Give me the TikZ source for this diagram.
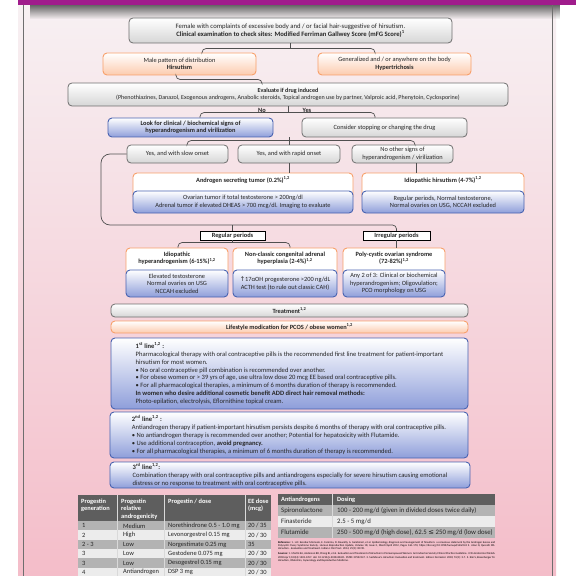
\documentclass[tikz,border=0pt]{standalone}
\usepackage{fontspec}
\setmainfont{Carlito}
\newfontfamily\symfont{DejaVu Sans}
\usetikzlibrary{fadings}

\definecolor{magbar}{HTML}{A01C8C}
\definecolor{pagetop}{HTML}{F7F1F3}
\definecolor{pagemid}{HTML}{EDD0DC}
\definecolor{pagebot}{HTML}{F4BDC9}
\definecolor{grayline}{HTML}{6E6E6E}
\definecolor{grayshade}{HTML}{D6D6D6}
\definecolor{orangeline}{HTML}{F8A06A}
\definecolor{orangeshade}{HTML}{FCCBAE}
\definecolor{blueline}{HTML}{4862B0}
\definecolor{blueshade}{HTML}{8E9EDA}
\definecolor{connline}{HTML}{505050}
\definecolor{tabhead}{HTML}{5E5E5E}
\definecolor{tabdark}{HTML}{B3B3B3}
\definecolor{tablight}{HTML}{ECECEC}
\definecolor{textcol}{HTML}{262626}

\newcommand{\boxfont}{\fontsize{6.4}{7.5}\selectfont}
\newcommand{\therapyfont}{\fontsize{6.6}{7.9}\selectfont}
\newcommand{\cellfont}{\fontsize{6.5}{7.5}\selectfont}
\newcommand{\dosefont}{\fontsize{6.8}{8}\selectfont}

\tikzset{
  graybox/.style={draw=grayline, line width=0.8bp, rounded corners=4bp,
    top color=white, bottom color=grayshade, align=center, inner sep=1bp},
  orangebox/.style={draw=orangeline, line width=0.9bp, rounded corners=4bp,
    top color=white, bottom color=orangeshade, align=center, inner sep=1bp},
  bluebox/.style={draw=blueline, line width=0.9bp, rounded corners=4bp,
    top color=white, bottom color=blueshade, align=center, inner sep=1bp},
  hdrbox/.style={draw=orangeline, line width=0.9bp, rounded corners=4bp, fill=white},
  hdrtxt/.style={anchor=north, yshift=-4bp, inner sep=0pt, font=\boxfont\bfseries, align=center},
  conn/.style={draw=connline, line width=0.7bp, rounded corners=4bp},
  tagbox/.style={draw=black, line width=0.5bp, fill=white, font=\boxfont\bfseries, inner sep=0.6bp},
  lbl/.style={font=\boxfont\bfseries, inner sep=0pt},
  cell/.style={anchor=west, inner sep=0pt, text=textcol},
  headcell/.style={anchor=north west, inner sep=0pt, text=white,
    font=\fontsize{6.4}{7.2}\selectfont\bfseries, align=left},
}

\begin{document}
\begin{tikzpicture}[x=1bp, y=-1bp, text=textcol, font=\boxfont]
  \useasboundingbox (0,0) rectangle (576,576);
  \clip (0,0) rectangle (576,576);

  % Seite
  \fill[white] (0,0) rectangle (576,576);
  \shade[top color=pagetop, middle color=pagemid, bottom color=pagebot]
    (18,0) rectangle (556,576);
  \fill[black!60, path fading=south] (30,5) rectangle (560,19);
  \fill[magbar] (18,0) rectangle (576,5.5);
  \draw[grayline, line width=0.6bp] (23,5) -- (23,576);
  \draw[grayline, line width=0.6bp] (552,5) -- (552,576);

  % Befund
  \node[graybox, minimum width=323bp, minimum height=25bp, font=\fontsize{6.7}{8}\selectfont] (female) at (290.5,30.5)
    {Female with complaints of  excessive body and / or facial hair-suggestive of hirsutism.\\
     \textbf{Clinical examination to check sites:  Modified Ferriman Gallwey Score (mFG Score)\textsuperscript{1}}};
  \node[orangebox, minimum width=153bp, minimum height=22bp] (male) at (179.5,64)
    {Male pattern of distribution\\ \textbf{Hirsutism}};
  \node[orangebox, minimum width=153bp, minimum height=22bp] (gen) at (394.5,64)
    {Generalized and / or anywhere on the body\\ \textbf{Hypertrichosis}};
  \node[graybox, minimum width=440bp, minimum height=23bp, font=\fontsize{6.1}{7.4}\selectfont] (eval) at (288,94.5)
    {\textbf{Evaluate if drug induced}\\
     (Phenothiazines, Danazol, Exogenous androgens, Anabolic steroids, Topical androgen use by partner, Valproic acid, Phenytoin, Cyclosporine)};
  \node[lbl] (no) at (262,110) {No};
  \node[lbl] (yes) at (307,110) {Yes};

  % Zeichen der Hyperandrogenaemie
  \node[bluebox, minimum width=165bp, minimum height=19bp] (look) at (190.5,127.5)
    {\textbf{Look for clinical / biochemical signs of}\\ \textbf{hyperandrogenism and virilization}};
  \node[graybox, minimum width=165bp, minimum height=19bp] (consider) at (384.5,127.5)
    {Consider stopping or changing the drug};
  \node[graybox, minimum width=101bp, minimum height=18bp] (slow) at (177.5,154)
    {Yes, and with slow onset};
  \node[graybox, minimum width=102bp, minimum height=18bp] (rapid) at (289,154)
    {Yes, and with rapid onset};
  \node[graybox, minimum width=101bp, minimum height=18bp] (noother) at (402.5,154)
    {No other signs of\\ hyperandrogenism / virilization};

  % Tumor und idiopathischer Hirsutismus
  \node[hdrbox, minimum width=220bp, minimum height=27bp,
    label={[hdrtxt]north:Androgen secreting tumor (0.2\%)\textsuperscript{1,2}}] (andro) at (243,186.5) {};
  \node[bluebox, minimum width=220bp, minimum height=22bp] (androinfo) at (243,202)
    {Ovarian tumor if total testosterone > 200ng/dl\\
     Adrenal tumor if elevated DHEAS > 700 mcg/dl. Imaging to evaluate};
  \node[hdrbox, minimum width=162bp, minimum height=27bp,
    label={[hdrtxt]north:Idiopathic hirsutism (4-7\%)\textsuperscript{1,2}}] (idiohirs) at (443,186.5) {};
  \node[bluebox, minimum width=162bp, minimum height=22bp] (idiohirsinfo) at (443,202)
    {Regular periods, Normal testosterone,\\ Normal ovaries on USG, NCCAH excluded};

  % Zyklus
  \node[tagbox, minimum width=65bp, minimum height=9bp] (regular) at (232.5,235.5) {Regular periods};
  \node[tagbox, minimum width=67bp, minimum height=9bp] (irregular) at (396.5,235.5) {Irregular periods};
  \coordinate (loop) at (101,225);

  \node[hdrbox, minimum width=102bp, minimum height=28bp,
    label={[hdrtxt]north:Idiopathic\\ hyperandrogenism (6-15\%)\textsuperscript{1,2}}] (idiohyper) at (177,262) {};
  \node[bluebox, minimum width=102bp, minimum height=27bp] (idiohyperinfo) at (177,283.5)
    {Elevated testosterone\\ Normal ovaries on USG\\ NCCAH excluded};
  \node[hdrbox, minimum width=104bp, minimum height=28bp,
    label={[hdrtxt]north:Non-classic congenital adrenal\\ hyperplasia  (2-4\%)\textsuperscript{1,2}}] (ncah) at (285,262) {};
  \node[bluebox, minimum width=104bp, minimum height=27bp] (ncahinfo) at (285,283.5)
    {{\symfont ↑}17αOH progesterone >200 ng/dL\\ ACTH test (to rule out classic CAH)};
  \node[hdrbox, minimum width=102bp, minimum height=28bp,
    label={[hdrtxt]north:Poly-cystic ovarian syndrome\\ (72-82\%)\textsuperscript{1,2}}] (pcos) at (394,262) {};
  \node[bluebox, minimum width=102bp, minimum height=27bp] (pcosinfo) at (394,283.5)
    {Any 2 of 3: Clinical or biochemical\\ hyperandrogenism; Oligovulation;\\ PCO morphology on USG};

  % Therapie
  \node[graybox, minimum width=357bp, minimum height=13bp] (treat) at (289.5,310.5)
    {\textbf{Treatment\textsuperscript{1,2}}};
  \node[orangebox, minimum width=357bp, minimum height=12bp] (life) at (289.5,327)
    {\textbf{Lifestyle modication for PCOS / obese women\textsuperscript{1,2}}};
  \node[bluebox, align=left, font=\therapyfont, minimum width=357bp, minimum height=71bp] (first) at (289.5,373.5)
    {\textbf{1\textsuperscript{st} line\textsuperscript{1,2} :}\\
     Pharmacological therapy with oral contraceptive pills is the recommended first line treatment for patient-important\\
     hirsutism for most women.\\
     • No oral contraceptive pill combination is recommended over another.\\
     • For obese women or > 39 yrs of age, use ultra low dose 20 mcg EE based oral contraceptive pills.\\
     • For all pharmacological therapies, a minimum of  6 months duration of therapy is recommended.\\
     \textbf{In women who desire additional cosmetic benefit ADD direct hair removal methods:}\\
     Photo-epilation, electrolysis, Eflornithine topical cream.};
  \node[bluebox, align=left, font=\therapyfont, minimum width=358bp, minimum height=46bp] (second) at (289,435)
    {\textbf{2\textsuperscript{nd} line\textsuperscript{1,2} :}\\
     Antiandrogen therapy if patient-important hirsutism persists despite 6 months of therapy with oral contraceptive pills.\\
     • No antiandrogen therapy is recommended over another; Potential for hepatoxicity with Flutamide.\\
     • Use additional contraception, \textbf{avoid pregnancy.}\\
     • For all pharmacological therapies, a minimum of  6 months duration of therapy is recommended.};
  \node[bluebox, align=left, font=\therapyfont, minimum width=360bp, minimum height=26bp] (third) at (290,475)
    {\textbf{3\textsuperscript{rd} line\textsuperscript{1,2}:}\\
     Combination therapy with oral contraceptive pills and antiandrogens especially for severe hirsutism causing emotional\\
     distress or no response to treatment with oral contraceptive pills.};

  % Verbindungen
  \draw[conn] (female.south) -- ++(0,6);
  \draw[conn] ([xshift=22.5bp]male.north) -- ++(0,-4) -| ([xshift=-19.5bp]gen.north);
  \draw[conn] ([xshift=-3.5bp]male.south) -- ++(0,4) -| ([xshift=-26bp]eval.north);
  \draw[conn] (eval.south) -- ++(0,7);
  \draw[conn] ([xshift=9.5bp]look.north) -- ++(0,-5) -| ([xshift=-9.5bp]consider.north);
  \draw[conn] (rapid.north |- look.south) -- (rapid.north);
  \draw[conn] ([xshift=9.5bp]slow.north) -- ++(0,-4) -| ([xshift=12.5bp]noother.north);
  \draw[conn] (rapid.south) -- (rapid.south |- andro.north);
  \draw[conn] ([xshift=13.5bp]noother.south) -- ([xshift=13.5bp]noother.south |- idiohirs.north);
  \draw[conn, rounded corners=9bp] (slow.west) -| (loop) [rounded corners=4bp] -| (irregular.north);
  \draw[conn] (regular.north |- loop) -- (regular.north);
  \draw[conn] (regular.south) -- ++(0,3);
  \draw[conn] ([xshift=1bp]idiohyper.north) -- ++(0,-5) -| ([xshift=5bp]ncah.north);
  \draw[conn] (irregular.south) -- (irregular.south |- pcos.north);

  % Tabelle Gestagene
  \fill[tabhead] (78,495) rectangle (271,521);
  \foreach \r/\c in {0/tabdark,1/tablight,2/tabdark,3/tablight,4/tabdark,5/tablight}
    \fill[\c] (78,{521+9.3*\r}) rectangle (271,{530.3+9.3*\r});
  \foreach \x in {117,164,245}
    \draw[white!70!gray, line width=0.4bp] (\x,495) -- (\x,577);
  \node[headcell] (hgen) at (81,499) {Progestin\\generation};
  \node[headcell] (hand) at (121,499) {Progestin\\relative\\androgenicity};
  \node[headcell] (hdose) at (168,499) {Progestin / dose};
  \node[headcell] (hee) at (248,499) {EE dose\\(mcg)};
  \begin{scope}[font=\cellfont]
    \foreach \g/\a/\d/\e [count=\i from 0] in {1/Medium/{Norethindrone 0.5 - 1.0 mg}/{20 / 35},
        2/High/{Levonorgestrel 0.15 mg}/{20 / 30}, {2 - 3}/Low/{Norgestimate 0.25 mg}/35,
        3/Low/{Gestodene 0.075 mg}/{20 / 30}, 3/Low/{Desogestrel 0.15 mg}/{20 / 30},
        4/Antiandrogen/{DSP 3 mg}/{20 / 30}} {
      \node[cell] (pg\i) at (82,{525.8+9.3*\i}) {\g};
      \node[cell] (pa\i) at (123,{525.8+9.3*\i}) {\a};
      \node[cell] (pd\i) at (168,{525.8+9.3*\i}) {\d};
      \node[cell] (pe\i) at (248,{525.8+9.3*\i}) {\e};
    }
  \end{scope}

  % Tabelle Antiandrogene
  \fill[tabhead] (278,494) rectangle (495,505);
  \fill[tabdark] (278,505) rectangle (495,516);
  \fill[tablight] (278,516) rectangle (495,527);
  \fill[tabdark] (278,527) rectangle (495,538);
  \draw[white!70!gray, line width=0.4bp] (332,494) -- (332,538);
  \node[cell, text=white, font=\fontsize{6.4}{7.2}\selectfont\bfseries] (hanti) at (281,499.5) {Antiandrogens};
  \node[cell, text=white, font=\fontsize{6.4}{7.2}\selectfont\bfseries] (hdosing) at (337,499.5) {Dosing};
  \begin{scope}[font=\dosefont]
    \node[cell] (spiro) at (281,510.5) {Spironolactone};
    \node[cell] (spirodose) at (337,510.5) {100 - 200 mg/d (given in divided doses twice daily)};
    \node[cell] (fina) at (281,521.5) {Finasteride};
    \node[cell] (finadose) at (337,521.5) {2.5 - 5 mg/d};
    \node[cell] (fluta) at (281,532.5) {Flutamide};
    \node[cell] (flutadose) at (337,532.5) {250 - 500 mg/d (high dose), 62.5 {\symfont ≤} 250 mg/d (low dose)};
  \end{scope}

  % Literatur
  \node[anchor=north west, inner sep=0pt, text width=217bp, align=justify, text=black,
    font=\fontsize{2.8}{3.4}\selectfont] (refs) at (278,541)
    {\textbf{Reference:} 1. H.F. Escobar-Morreale, E. Carmina, D. Dewailly, A. Gambineri, et al. Epidemiology, diagnosis and management of hirsutism: a consensus statement by the Androgen Excess and Polycystic Ovary Syndrome Society. Human Reproduction Update, Volume 18, Issue 2, March/April 2012, Pages 146--170, https://doi.org/10.1093/humupd/dmr042 2. Alavi N, Qureshi MS. Hirsutism - Evaluation and Treatment. Indian J Clin Pract. 2014; 25(1): 89-90.\\[1.5bp]
     \textbf{Sources:} 1. Martin KA, Anderson RR, Chang RJ, et al. Evaluation and Treatment of Hirsutism in Premenopausal Women: An Endocrine Society Clinical Practice Guideline. J Clin Endocrinol Metab. 2018 Apr 1;103(4):1233-1257. doi: 10.1210/jc.2018-00241. PMID: 29522147. 2. Sachdeva S. Hirsutism: Evaluation and treatment. Indian J Dermatol. 2010; 55(1): 3-7. 3. Kim S, Rosenberger M. Hirsutism, Obstetrics, Gynecology and Reproductive Medicine.};
\end{tikzpicture}
\end{document}
